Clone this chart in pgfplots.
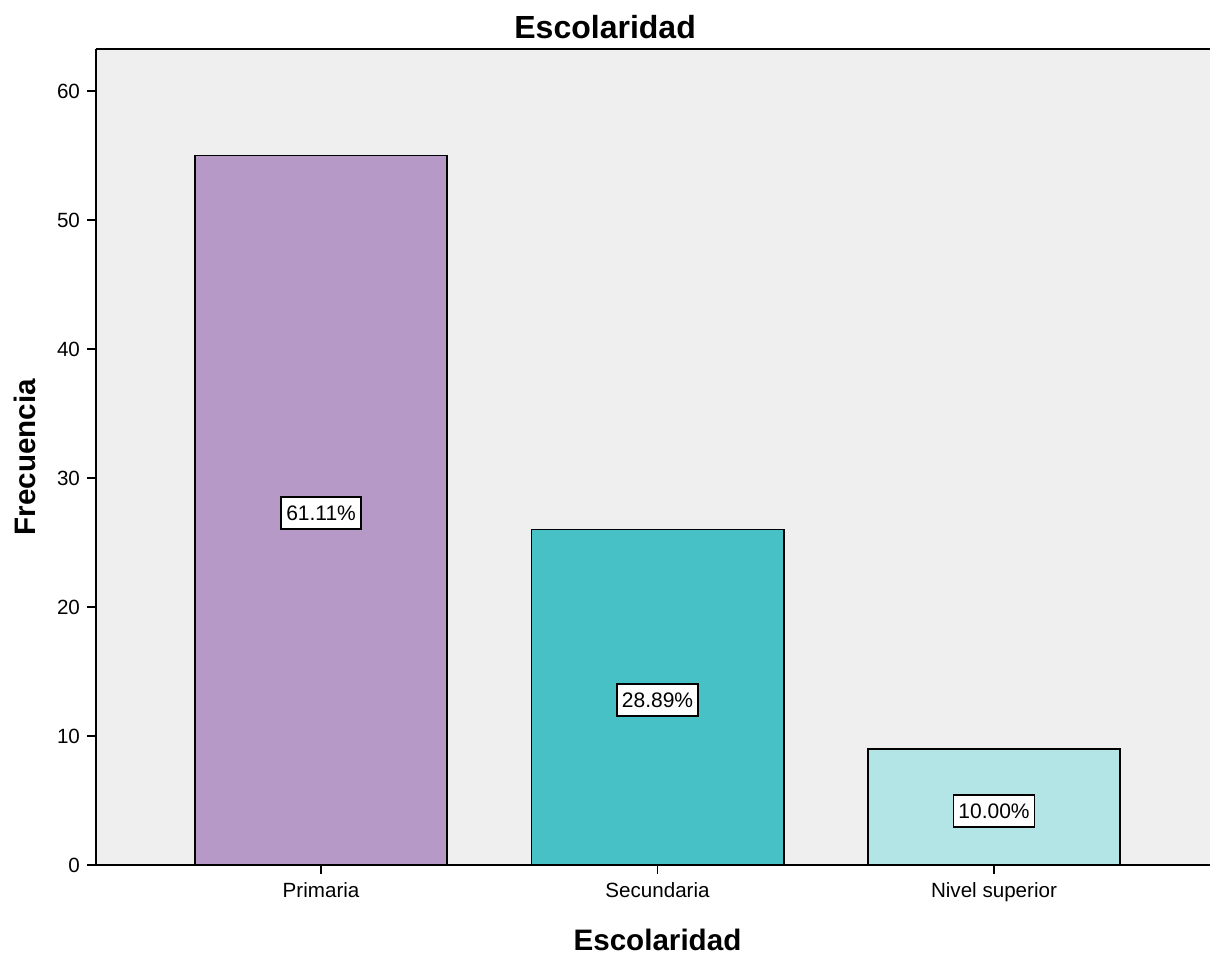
\documentclass[border=0pt]{standalone}
\usepackage{pgfplots}
\pgfplotsset{compat=1.18}
\usepackage{fontspec}
\setmainfont{Liberation Sans}
\definecolor{bg}{RGB}{239,239,239}
\definecolor{c1}{RGB}{183,153,200}
\definecolor{c2}{RGB}{72,193,198}
\definecolor{c3}{RGB}{179,229,231}
\begin{document}
\begin{tikzpicture}
\begin{axis}[
  scale only axis, width=557pt, height=408pt,
  xmin=-0.669, xmax=2.642, ymin=0, ymax=63.26,
  axis lines*=left,
  axis line style={line width=0.8pt, black},
  axis background/.style={fill=bg},
  bar width=0.75, bar shift=0pt,
  xtick={0,1,2}, xticklabels={Primaria,Secundaria,Nivel superior},
  ytick={0,10,...,60},
  tick align=outside, major tick length=4.5pt,
  tick style={line width=0.8pt, black},
  /pgf/number format/assume math mode=true,
  tick label style={font=\fontsize{10.3}{12}\selectfont},
  xticklabel style={yshift=-1pt},
  title={Escolaridad},
  title style={font=\bfseries\fontsize{16}{18}\selectfont, at={(axis description cs:0.457,1)}, anchor=center, yshift=5pt},
  xlabel={Escolaridad},
  xlabel style={font=\bfseries\fontsize{14.8}{17}\selectfont, at={(axis description cs:0.504,0)}, anchor=center, yshift=-37.5pt},
  ylabel={Frecuencia},
  ylabel style={font=\bfseries\fontsize{14.8}{17}\selectfont, at={(axis description cs:0,0.5)}, anchor=center, yshift=35.5pt},
  clip=false,
]
\addplot[ybar, fill=c1, draw=black, line width=0.8pt] coordinates {(0,55)};
\addplot[ybar, fill=c2, draw=black, line width=0.8pt] coordinates {(1,26)};
\addplot[ybar, fill=c3, draw=black, line width=0.8pt] coordinates {(2,9)};
\addplot[draw=none, mark=none, nodes near coords, point meta=explicit symbolic,
  nodes near coords align=center,
  nodes near coords style={anchor=center, draw=black, fill=white, line width=0.8pt, inner xsep=2.5pt, inner ysep=4.3pt, font=\fontsize{10.5}{12}\selectfont}]
  coordinates {(0,27.3) [61.11\%] (1,12.8) [28.89\%] (2,4.2) [10.00\%]};
\draw[line width=0.8pt, black] (rel axis cs:0,1) -- (rel axis cs:1,1);
\coordinate (bl) at (rel axis cs:0,0);
\coordinate (tr) at (rel axis cs:1,1);
\end{axis}
\pgfresetboundingbox
\useasboundingbox ([shift={(-48pt,-44.5pt)}]bl) rectangle ([shift={(0pt,24.5pt)}]tr);
\end{tikzpicture}
\end{document}
